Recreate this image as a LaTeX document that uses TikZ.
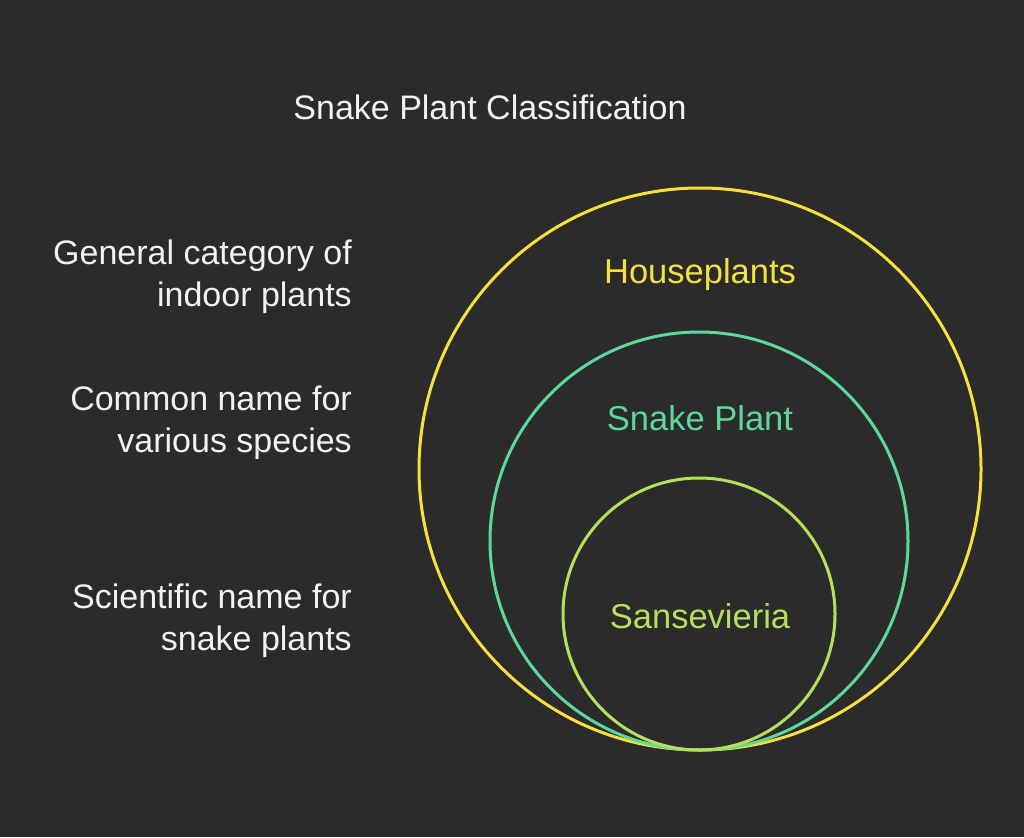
\documentclass[tikz,border=0pt]{standalone}
\usepackage{fontspec}
\setmainfont{Liberation Sans}
\usetikzlibrary{positioning}
\definecolor{bgdark}{HTML}{2B2B2B}
\definecolor{houseyellow}{HTML}{F5E03E}
\definecolor{snakegreen}{HTML}{5ED79A}
\definecolor{sansgreen}{HTML}{B5E05C}
\definecolor{textwhite}{HTML}{F2F2F2}

\begin{document}
\begin{tikzpicture}[x=1pt,y=-1pt,
	ring/.style={circle, inner sep=0pt, line width=3pt},
	ringtext/.style={font=\fontsize{34.5}{40}\selectfont},
	desc/.style={align=right, anchor=east, inner xsep=0pt, text=textwhite,
		font=\fontsize{34}{42}\selectfont}]
	
	% background
	\fill[bgdark] (0,0) rectangle (1024,837);
	\useasboundingbox (0,0) rectangle (1024,837);
	
	\node[text=textwhite, font=\fontsize{34}{40}\selectfont] (title) at (490,107) {Snake Plant Classification};
	
	% circles
	\node[ring, draw=houseyellow, minimum size=562pt] (house) at (700,469) {};
	\node[ring, draw=snakegreen, minimum size=418pt] (snake) at (699,541) {};
	\node[ring, draw=sansgreen, minimum size=272pt] (sans) at (699,614) {};
	
	\node[ringtext, text=houseyellow] (houselbl) at (700,275) {Houseplants};
	\node[ringtext, text=snakegreen] (snakelbl) at (700,418) {Snake Plant};
	\node[ringtext, text=sansgreen] (sanslbl) at (700,616) {Sansevieria};
	
	% descriptions
	\node[desc] (housedesc) at (352,277) {General category of\\indoor plants};
	\node[desc] (snakedesc) at (352,423) {Common name for\\various species};
	\node[desc] (sansdesc) at (352,621) {Scientific name for\\snake plants};
	
\end{tikzpicture}
\end{document}
